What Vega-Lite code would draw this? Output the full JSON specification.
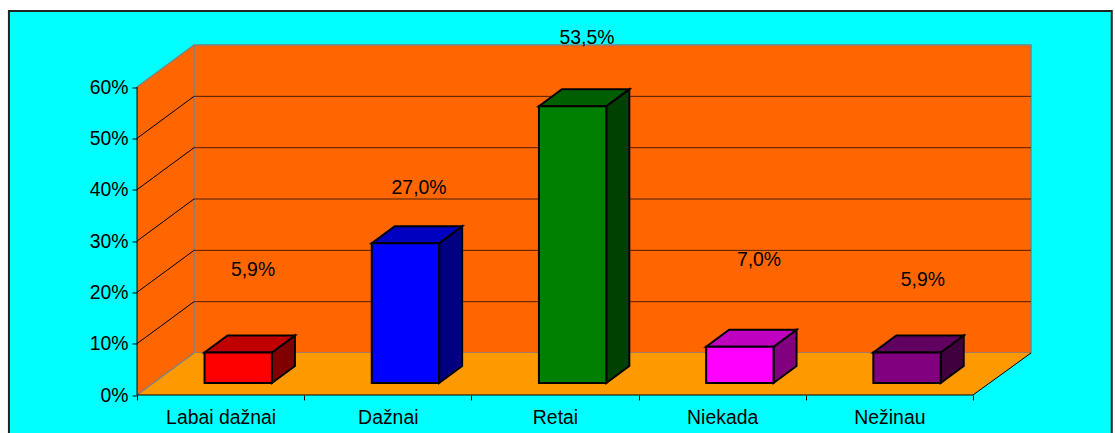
{
"$schema":"https://vega.github.io/schema/vega-lite/v6.json",
"width":894,"height":350.5,
"autosize":{"type":"none"},
"padding":{"left":137,"top":44.5,"right":84,"bottom":38},
"background":"#ffffff",
"config":{"view":{"stroke":null},"text":{"font":"Liberation Sans"},"axis":{"grid":false}},
"datasets":{
"leftWall":[{"x":0,"low":0,"high":60},{"x":0.341,"low":8.18,"high":68.18}],
"floor":[{"x":0,"low":0,"high":0},{"x":0.341,"low":0,"high":8.18},{"x":5,"low":0,"high":8.18},{"x":5.347,"low":8.18,"high":8.18}],
"edgesGray":[{"edge":"a","x":0,"y":0},{"edge":"a","x":0.341,"y":8.18},{"edge":"b","x":0,"y":60},{"edge":"b","x":0.341,"y":68.18}],
"edgesBlack":[{"edge":"axisX","x":0,"y":0},{"edge":"axisX","x":5,"y":0},{"edge":"axisY","x":0,"y":0},{"edge":"axisY","x":0,"y":60},{"edge":"right","x":5,"y":0},{"edge":"right","x":5.347,"y":8.18},
{"edge":"d10","x":0,"y":10},{"edge":"d10","x":0.341,"y":18.18},{"edge":"d20","x":0,"y":20},{"edge":"d20","x":0.341,"y":28.18},{"edge":"d30","x":0,"y":30},{"edge":"d30","x":0.341,"y":38.18},{"edge":"d40","x":0,"y":40},{"edge":"d40","x":0.341,"y":48.18},{"edge":"d50","x":0,"y":50},{"edge":"d50","x":0.341,"y":58.18}],
"grid":[{"edge":"g10","x":0.341,"y":18.18},{"edge":"g10","x":5.347,"y":18.18},{"edge":"g20","x":0.341,"y":28.18},{"edge":"g20","x":5.347,"y":28.18},{"edge":"g30","x":0.341,"y":38.18},{"edge":"g30","x":5.347,"y":38.18},{"edge":"g40","x":0.341,"y":48.18},{"edge":"g40","x":5.347,"y":48.18},{"edge":"g50","x":0.341,"y":58.18},{"edge":"g50","x":5.347,"y":58.18}]
},
"data":{"values":[
{"label":"Labai dažnai","i":0,"value":5.9,"text":"5,9%","labelX":0.694,"labelY":24.3},
{"label":"Dažnai","i":1,"value":27.0,"text":"27,0%","labelX":1.687,"labelY":40.3},
{"label":"Retai","i":2,"value":53.5,"text":"53,5%","labelX":2.691,"labelY":69.6},
{"label":"Niekada","i":3,"value":7.0,"text":"7,0%","labelX":3.72,"labelY":26.3},
{"label":"Nežinau","i":4,"value":5.9,"text":"5,9%","labelX":4.7,"labelY":22.4}
]},
"transform":[
{"calculate":"datum.i+0.404","as":"xl"},
{"calculate":"datum.i+0.807","as":"xr"},
{"calculate":"2.34","as":"base"},
{"calculate":"2.34+datum.value*1.008","as":"top"}
],
"layer":[
{"data":{"values":[{"x0":-0.766,"x1":5.83,"y0":-8.8,"y1":74.8}]},
 "mark":{"type":"rect","fill":"#00FFFF","stroke":"#222222","strokeWidth":2,"clip":false},
 "encoding":{
  "x":{"field":"x0","type":"quantitative","title":null,"scale":{"domain":[0,5.347],"nice":false,"zero":false},
   "axis":{"values":[0,0.5,1,1.5,2,2.5,3,3.5,4,4.5,5],"zindex":1,"domain":false,"grid":false,"tickSize":5,"tickColor":"#000000",
     "tickOpacity":{"condition":{"test":"datum.value % 1 == 0","value":1},"value":0},
     "labelExpr":"datum.value % 1 == 0 ? '' : ['Labai dažnai','Dažnai','Retai','Niekada','Nežinau'][floor(datum.value)]",
     "labelFont":"Liberation Sans","labelFontSize":19.4,"labelColor":"#000000","labelPadding":8,"labelAngle":0,"labelOverlap":false,"labelFlush":false,"labelBound":false,"title":null}},
  "x2":{"field":"x1"},
  "y":{"field":"y0","type":"quantitative","title":null,"scale":{"domain":[0,68.28],"nice":false,"zero":false},
   "axis":{"values":[0,10,20,30,40,50,60],"zindex":1,"domain":false,"grid":false,"tickSize":5,"tickColor":"#000000",
     "labelExpr":"datum.value + '%'","labelFont":"Liberation Sans","labelFontSize":19.4,"labelColor":"#000000","labelPadding":4,"labelOverlap":false,"labelFlush":false,"labelBound":false,"title":null}},
  "y2":{"field":"y1"}
 }},
{"data":{"name":"leftWall"},"mark":{"type":"area","fill":"#FF6600"},
 "encoding":{"x":{"field":"x","type":"quantitative"},"y":{"field":"low","type":"quantitative"},"y2":{"field":"high"}}},
{"data":{"values":[{"x0":0.341,"x1":5.347,"y0":8.18,"y1":68.18}]},"mark":{"type":"rect","fill":"#FF6600","stroke":"#808080","strokeWidth":1.5},
 "encoding":{"x":{"field":"x0","type":"quantitative"},"x2":{"field":"x1"},"y":{"field":"y0","type":"quantitative"},"y2":{"field":"y1"}}},
{"data":{"name":"floor"},"mark":{"type":"area","fill":"#FF9900"},
 "encoding":{"x":{"field":"x","type":"quantitative"},"y":{"field":"low","type":"quantitative"},"y2":{"field":"high"}}},
{"data":{"name":"grid"},"mark":{"type":"line","stroke":"#4d1f00","strokeWidth":1},
 "encoding":{"x":{"field":"x","type":"quantitative"},"y":{"field":"y","type":"quantitative"},"detail":{"field":"edge"}}},
{"data":{"name":"edgesGray"},"mark":{"type":"line","stroke":"#808080","strokeWidth":1.5},
 "encoding":{"x":{"field":"x","type":"quantitative"},"y":{"field":"y","type":"quantitative"},"detail":{"field":"edge"}}},
{"data":{"name":"edgesBlack"},"mark":{"type":"line","stroke":"#000000","strokeWidth":1},
 "encoding":{"x":{"field":"x","type":"quantitative"},"y":{"field":"y","type":"quantitative"},"detail":{"field":"edge"}}},
{"transform":[
  {"fold":["a","b"],"as":["corner","unused"]},
  {"calculate":"datum.corner=='a' ? datum.xr : datum.xr+0.1376","as":"px"},
  {"calculate":"datum.corner=='a' ? 2.34 : 2.34+3.31","as":"py"},
  {"calculate":"datum.corner=='a' ? datum.top : datum.top+3.31","as":"py2"}],
 "mark":{"type":"area","stroke":"#000000","strokeWidth":2},
 "encoding":{"x":{"field":"px","type":"quantitative"},"y":{"field":"py","type":"quantitative"},"y2":{"field":"py2"},
  "fill":{"field":"label","type":"nominal","legend":null,"scale":{"domain":["Labai dažnai","Dažnai","Retai","Niekada","Nežinau"],"range":["#800000","#000080","#004000","#800080","#400040"]}}}},
{"transform":[
  {"fold":["a","b","c","d"],"as":["corner","unused"]},
  {"calculate":"datum.corner=='a' ? datum.xl : datum.corner=='b' ? datum.xl+0.1376 : datum.corner=='c' ? datum.xr : datum.xr+0.1376","as":"px"},
  {"calculate":"datum.corner=='d' ? datum.top+3.31 : datum.top","as":"py"},
  {"calculate":"datum.corner=='a' ? datum.top : datum.top+3.31","as":"py2"}],
 "mark":{"type":"area","stroke":"#000000","strokeWidth":2},
 "encoding":{"x":{"field":"px","type":"quantitative"},"y":{"field":"py","type":"quantitative"},"y2":{"field":"py2"},
  "fill":{"field":"label","type":"nominal","legend":null,"scale":{"domain":["Labai dažnai","Dažnai","Retai","Niekada","Nežinau"],"range":["#C00000","#0000C0","#006000","#C000C0","#600060"]}}}},
{"mark":{"type":"rect","stroke":"#000000","strokeWidth":2},
 "encoding":{"x":{"field":"xl","type":"quantitative"},"x2":{"field":"xr"},"y":{"field":"base","type":"quantitative"},"y2":{"field":"top"},
  "fill":{"field":"label","type":"nominal","legend":null,"scale":{"domain":["Labai dažnai","Dažnai","Retai","Niekada","Nežinau"],"range":["#FF0000","#0000FF","#008000","#FF00FF","#800080"]}}}},
{"mark":{"type":"text","fontSize":19.4,"font":"Liberation Sans","color":"#000000","clip":false},
 "encoding":{"x":{"field":"labelX","type":"quantitative"},"y":{"field":"labelY","type":"quantitative"},"text":{"field":"text"}}}
],
"resolve":{"scale":{"fill":"independent"}}
}
